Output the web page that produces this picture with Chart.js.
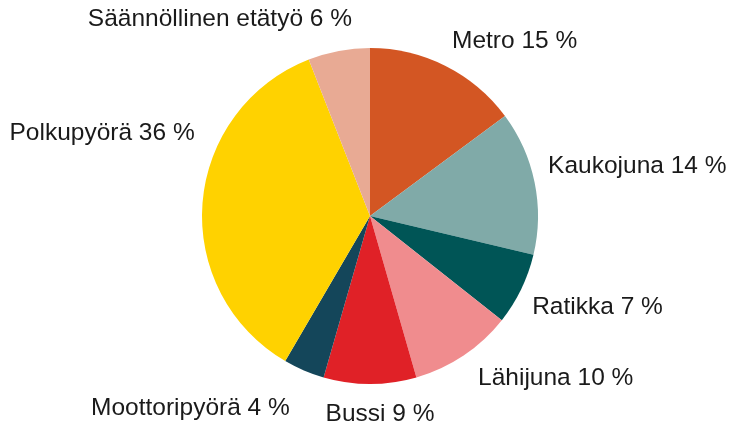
<!DOCTYPE html>
<html>
<head>
<meta charset="utf-8">
<script src="https://cdn.jsdelivr.net/npm/chart.js@4"></script>
<style>
  html, body { margin: 0; padding: 0; background: #fff; }
  #wrap { width: 740px; height: 425px; }
</style>
</head>
<body>
<div id="wrap"><canvas id="chart" width="740" height="425"></canvas></div>
<script>
const labels = ['Metro', 'Kaukojuna', 'Ratikka', 'Lähijuna', 'Bussi', 'Moottoripyörä', 'Polkupyörä', 'Säännöllinen etätyö']
const shares = [15, 14, 7, 10, 9, 4, 36, 6]
const colors = ['#d35623', '#80aaa8', '#005556', '#f08c8e', '#e02127', '#14465a', '#ffd200', '#e8aa94']

// label placement around the pie: extra distance from the rim, angle nudge (deg), alignment
const labelPlacement = [
  { gap: 25, shift: -1.6, align: 'left' },
  { gap: 17, shift: -4.1, align: 'left' },
  { gap: 18, shift: 3.5, align: 'left' },
  { gap: 27, shift: 0.2, align: 'left' },
  { gap: 31, shift: -2.9, align: 'center' },
  { gap: 40, shift: -0.5, align: 'right' },
  { gap: 26, shift: 20.9, align: 'right' },
  { gap: 30, shift: 5.5, align: 'right' },
]

const outsideLabels = {
  id: 'outsideLabels',
  afterDatasetsDraw(chart) {
    const ctx = chart.ctx
    const meta = chart.getDatasetMeta(0)
    ctx.save()
    ctx.font = '24.5px "Liberation Sans", Arial, sans-serif'
    ctx.fillStyle = '#1a1a1a'
    ctx.textBaseline = 'middle'
    meta.data.forEach((arc, i) => {
      const p = arc.getProps(['x', 'y', 'startAngle', 'endAngle', 'outerRadius'], true)
      const place = labelPlacement[i]
      const a = (p.startAngle + p.endAngle) / 2 + place.shift * Math.PI / 180
      const r = p.outerRadius + place.gap
      ctx.textAlign = place.align
      ctx.fillText(labels[i] + ' ' + shares[i] + ' %', p.x + r * Math.cos(a), p.y + r * Math.sin(a))
    })
    ctx.restore()
  }
}

new Chart(document.getElementById('chart').getContext('2d'), {
  type: 'pie',
  data: {
    labels: labels,
    datasets: [{
      data: shares,
      backgroundColor: colors,
      borderWidth: 0,
    }]
  },
  options: {
    responsive: false,
    animation: false,
    layout: { padding: { top: 48, bottom: 41, left: 0, right: 0 } },
    plugins: {
      legend: { display: false },
      tooltip: { enabled: false },
    }
  },
  plugins: [outsideLabels]
})
</script>
</body>
</html>
